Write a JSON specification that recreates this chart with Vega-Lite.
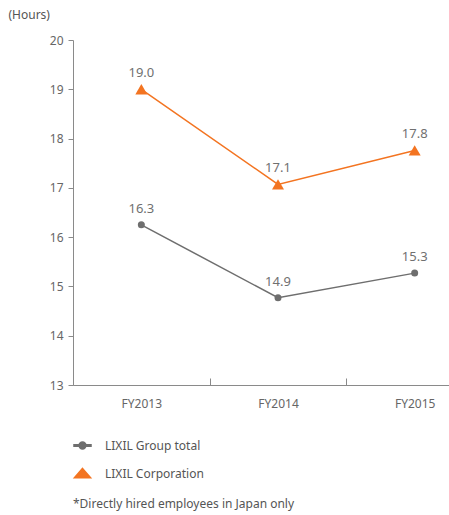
{
  "$schema": "https://vega.github.io/schema/vega-lite/v6.json",
  "width": 376,
  "height": 345,
  "autosize": {"type": "none"},
  "padding": {"left": 73, "top": 40, "right": 0, "bottom": 130},
  "config": {
    "view": {"stroke": null},
    "font": "Noto Sans",
    "axis": {"grid": false, "domainColor": "#8a8a8a", "tickColor": "#8a8a8a", "labelColor": "#666666", "labelFontSize": 12}
  },
  "data": {
    "values": [
      {"year": "FY2013", "series": "LIXIL Group total", "value": 16.25, "label": "16.3"},
      {"year": "FY2014", "series": "LIXIL Group total", "value": 14.77, "label": "14.9"},
      {"year": "FY2015", "series": "LIXIL Group total", "value": 15.27, "label": "15.3"},
      {"year": "FY2013", "series": "LIXIL Corporation", "value": 19.0, "label": "19.0"},
      {"year": "FY2014", "series": "LIXIL Corporation", "value": 17.07, "label": "17.1"},
      {"year": "FY2015", "series": "LIXIL Corporation", "value": 17.76, "label": "17.8"}
    ]
  },
  "encoding": {
    "x": {
      "field": "year", "type": "ordinal",
      "scale": {"type": "band", "range": [0, 410], "paddingInner": 0, "paddingOuter": 0},
      "axis": {"title": null, "labelAngle": 0, "tickBand": "extent", "tickSize": -7, "labelPadding": 20, "labelFontSize": 12}
    },
    "y": {
      "field": "value", "type": "quantitative",
      "scale": {"domain": [13, 20], "nice": false, "zero": false},
      "axis": {
        "values": [13, 14, 15, 16, 17, 18, 19, 20], "tickSize": 5, "labelPadding": 5,
        "title": "(Hours)", "titleAngle": 0, "titleX": -65, "titleY": -26, "titleAlign": "left",
        "titleBaseline": "middle", "titleFontWeight": "normal", "titleFontSize": 12, "titleColor": "#555555"
      }
    },
    "color": {
      "field": "series", "type": "nominal",
      "scale": {"domain": ["LIXIL Group total", "LIXIL Corporation"], "range": ["#6e6e6e", "#f37421"]},
      "legend": {
        "orient": "none", "legendX": 0, "legendY": 396, "direction": "vertical",
        "title": "*Directly hired employees in Japan only", "titleOrient": "bottom", "titleAnchor": "start",
        "titleLimit": 400,
        "titleFontWeight": "normal", "titleFontSize": 12, "titleColor": "#555555", "titlePadding": 18,
        "labelFontSize": 12, "labelColor": "#555555", "labelOffset": 13, "symbolSize": 289, "rowPadding": 12, "padding": 0,
        "encode": {
          "symbols": {
            "update": {
              "shape": {"signal": "datum.value === 'LIXIL Group total' ? 'M-1,-0.09L1,-0.09L1,0.09L-1,0.09ZM-0.4,0A0.4,0.4,0,1,1,0.4,0A0.4,0.4,0,1,1,-0.4,0Z' : 'M0,-0.6L0.95,0.5L-0.95,0.5Z'"},
              "size": {"value": 289},
              "fill": {"scale": "color", "field": "value"},
              "stroke": {"value": "transparent"},
              "opacity": {"value": 1},
              "fillOpacity": {"value": 1}
            }
          }
        }
      }
    }
  },
  "layer": [
    {"mark": {"type": "line", "strokeWidth": 1.5}},
    {
      "mark": {"type": "point", "filled": true, "opacity": 1},
      "encoding": {
        "shape": {"condition": {"test": "datum.series === 'LIXIL Corporation'", "value": "triangle-up"}, "value": "circle"},
        "size": {"condition": {"test": "datum.series === 'LIXIL Corporation'", "value": 144}, "value": 49}
      }
    },
    {
      "mark": {"type": "text", "dy": -16, "fontSize": 13, "baseline": "middle"},
      "encoding": {"text": {"field": "label"}, "color": {"value": "#707070"}}
    }
  ]
}
